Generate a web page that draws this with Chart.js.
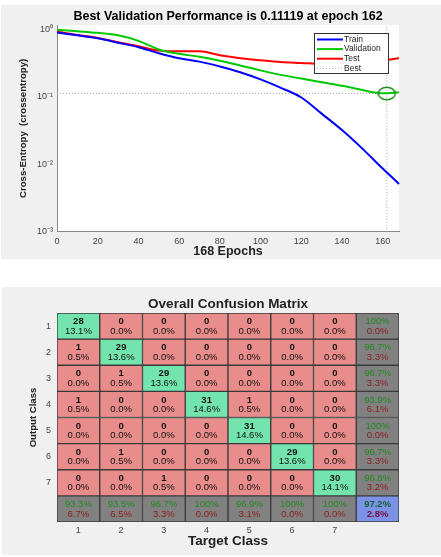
<!DOCTYPE html>
<html>
<head>
<meta charset="utf-8">
<script src="https://cdn.jsdelivr.net/npm/chart.js@4.4.1/dist/chart.umd.min.js"></script>
<style>
  html, body { margin: 0; padding: 0; background: #fff; }
  body { width: 441px; height: 557px; position: relative; overflow: hidden; }
  .panel { position: absolute; background: #f0f0f0; }
  #perfPanel { left: 1px; top: 5px; width: 440px; height: 254px; }
  #cmPanel { left: 2px; top: 287px; width: 439px; height: 268px; }
  canvas { position: absolute; left: 0; }
  #perf { top: 5px; }
  #confusion { top: 287px; }
</style>
</head>
<body>
<div class="panel" id="perfPanel"></div>
<div class="panel" id="cmPanel"></div>
<canvas id="perf" width="441" height="254"></canvas>
<canvas id="confusion" width="441" height="268"></canvas>

<script>
// --- performance plot data ---
const epochs     = [0, 10, 20, 30, 40, 50, 60, 70, 80, 90, 100, 110, 120, 130, 140, 150, 160, 168];
const trainLoss  = [0.89, 0.81, 0.73, 0.63, 0.54, 0.44, 0.37, 0.33, 0.28, 0.23, 0.18, 0.135, 0.097, 0.056, 0.032, 0.017, 0.0086, 0.0051];
const validLoss  = [0.98, 0.93, 0.88, 0.81, 0.67, 0.50, 0.43, 0.39, 0.34, 0.29, 0.245, 0.21, 0.185, 0.163, 0.145, 0.125, 0.112, 0.116];
const testLoss   = [0.92, 0.82, 0.74, 0.64, 0.56, 0.48, 0.47, 0.47, 0.41, 0.37, 0.345, 0.325, 0.315, 0.305, 0.31, 0.325, 0.345, 0.37];
const bestEpoch  = 162;
const bestPerf   = 0.11119;
const maxEpoch   = 168;
const xTicks     = [0, 20, 40, 60, 80, 100, 120, 140, 160];

// --- confusion matrix data ---
const classes = ['1', '2', '3', '4', '5', '6', '7'];
const counts = [
  [28, 0, 0, 0, 0, 0, 0],
  [1, 29, 0, 0, 0, 0, 0],
  [0, 1, 29, 0, 0, 0, 0],
  [1, 0, 0, 31, 1, 0, 0],
  [0, 0, 0, 0, 31, 0, 0],
  [0, 1, 0, 0, 0, 29, 0],
  [0, 0, 1, 0, 0, 0, 30]
];

const FONT = '"Liberation Sans", Arial, Helvetica, sans-serif';
const sup = { '0': '⁰', '1': '¹', '2': '²', '3': '³', '-': '⁻' };

function pts(ys) { return epochs.map((e, i) => ({ x: e, y: ys[i] })); }

// white plot background
const plotBg = {
  id: 'plotBg',
  beforeDraw(chart) {
    const { ctx, chartArea: a } = chart;
    ctx.save();
    ctx.fillStyle = '#fff';
    ctx.fillRect(a.left, a.top, a.right - a.left, a.bottom - a.top);
    ctx.restore();
  }
};

// matlab style legend box inside the axes
const boxLegend = {
  id: 'boxLegend',
  afterDraw(chart) {
    const { ctx, chartArea: a } = chart;
    const items = chart.data.datasets.filter(d => d.inLegend);
    const x0 = a.right - 85, y0 = a.top + 8, w = 74, h = 40;
    ctx.save();
    ctx.fillStyle = '#fff';
    ctx.fillRect(x0, y0, w, h);
    ctx.strokeStyle = '#333';
    ctx.lineWidth = 1;
    ctx.strokeRect(x0 + 0.5, y0 + 0.5, w, h);
    ctx.font = '8.5px ' + FONT;
    ctx.textBaseline = 'middle';
    items.forEach((d, i) => {
      const y = y0 + 6.5 + i * 9.6;
      ctx.beginPath();
      ctx.strokeStyle = d.borderColor;
      ctx.lineWidth = d.borderWidth;
      ctx.setLineDash(d.borderDash || []);
      ctx.moveTo(x0 + 3, y);
      ctx.lineTo(x0 + 29, y);
      ctx.stroke();
      ctx.setLineDash([]);
      ctx.fillStyle = '#222';
      ctx.fillText(d.label, x0 + 30, y);
    });
    ctx.restore();
  }
};

// ellipse marker for best epoch
const ring = document.createElement('canvas');
ring.width = 19; ring.height = 15;
(function () {
  const c = ring.getContext('2d');
  c.strokeStyle = '#1a8a1a';
  c.lineWidth = 1.5;
  c.beginPath();
  c.ellipse(9.5, 7.5, 8.5, 6.3, 0, 0, Math.PI * 2);
  c.stroke();
})();

new Chart(document.getElementById('perf'), {
  type: 'line',
  data: {
    datasets: [
      { label: 'Best', data: [{ x: bestEpoch, y: bestPerf }], pointStyle: ring, pointRadius: 9, showLine: false, order: 0 },
      { label: 'Train', data: pts(trainLoss), borderColor: '#0000ff', borderWidth: 2, inLegend: true, order: 1 },
      { label: 'Validation', data: pts(validLoss), borderColor: '#00c800', borderWidth: 2, inLegend: true, order: 2 },
      { label: 'Test', data: pts(testLoss), borderColor: '#ff0000', borderWidth: 2, inLegend: true, order: 3 },
      { label: 'Best', data: [{ x: 0, y: bestPerf }, { x: maxEpoch, y: bestPerf }], borderColor: '#a8a8a8', borderWidth: 1, borderDash: [1, 2], inLegend: true, order: 5 },
      { label: 'BestV', data: [{ x: bestEpoch, y: 0.001 }, { x: bestEpoch, y: 1.15 }], borderColor: '#a8a8a8', borderWidth: 1, borderDash: [1, 2], order: 5 }
    ]
  },
  options: {
    responsive: false,
    animation: false,
    events: [],
    clip: false,
    cubicInterpolationMode: 'monotone',
    elements: { point: { radius: 0 } },
    layout: { padding: { right: 42, left: 0, top: 0, bottom: 0 } },
    plugins: {
      legend: { display: false },
      tooltip: { enabled: false },
      title: {
        display: true,
        fullSize: false,
        text: 'Best Validation Performance is 0.11119 at epoch 162',
        color: '#000',
        font: { family: FONT, size: 12.5, weight: 'bold' },
        padding: { top: 4, bottom: 1 }
      }
    },
    scales: {
      x: {
        type: 'linear', min: 0, max: maxEpoch,
        afterBuildTicks: s => { s.ticks = xTicks.map(v => ({ value: v })); },
        afterFit: s => { s.height = 27.3; },
        grid: { display: false, drawTicks: false },
        border: { color: '#888' },
        ticks: { color: '#444', font: { family: FONT, size: 9 }, padding: 4, maxRotation: 0 },
        title: { display: true, text: '168 Epochs', color: '#222', font: { family: FONT, size: 12.5, weight: 'bold' }, padding: { top: 0, bottom: 0 } }
      },
      y: {
        type: 'logarithmic', min: 0.001, max: 1.15,
        afterFit: s => { s.width = 57; },
        grid: { display: false, drawTicks: false },
        border: { color: '#888' },
        ticks: {
          color: '#444', font: { family: FONT, size: 9 }, padding: 4, autoSkip: false,
          callback: v => {
            const e = Math.log10(v);
            if (Math.abs(e - Math.round(e)) > 1e-6) return '';
            return '10' + String(Math.round(e)).split('').map(ch => sup[ch]).join('');
          }
        },
        title: { display: true, text: 'Cross-Entropy  (crossentropy)', color: '#222', font: { family: FONT, size: 9.6, weight: 'bold' }, padding: { top: 17.2, bottom: 0 } }
      }
    }
  },
  plugins: [plotBg, boxLegend]
});

// --- confusion matrix built from counts ---
const n = classes.length;
const total = counts.flat().reduce((a, b) => a + b, 0);
const pct = v => (v === 100 ? '100%' : v.toFixed(1) + '%');
const GREEN = '#74e4ae', RED = '#e88c8c', GRAY = '#818181', BLUE = '#7b92e6';

const cmDatasets = [];
for (let r = 0; r <= n; r++) {
  const data = [], colors = [], top = [], bottom = [], kind = [];
  for (let c = 0; c <= n; c++) {
    data.push([r + 0.5, r + 1.5]);
    if (r < n && c < n) {
      colors.push(r === c ? GREEN : RED);
      top.push(String(counts[r][c]));
      bottom.push(pct(counts[r][c] / total * 100));
      kind.push('cell');
    } else {
      let ok, all;
      if (r < n) {
        all = counts[r].reduce((a, b) => a + b, 0); ok = counts[r][r];
      } else if (c < n) {
        all = counts.reduce((a, row) => a + row[c], 0); ok = counts[c][c];
      } else {
        all = total; ok = counts.reduce((a, row, i) => a + row[i], 0);
      }
      const acc = ok / all * 100;
      colors.push(r === n && c === n ? BLUE : GRAY);
      top.push(pct(acc));
      bottom.push(pct(100 - acc));
      kind.push(r === n && c === n ? 'total' : 'sum');
    }
  }
  cmDatasets.push({ data, backgroundColor: colors, top, bottom, kind });
}

const cellText = {
  id: 'cellText',
  afterDatasetsDraw(chart) {
    const ctx = chart.ctx;
    ctx.save();
    ctx.textAlign = 'center';
    ctx.textBaseline = 'middle';
    chart.data.datasets.forEach((ds, r) => {
      chart.getDatasetMeta(r).data.forEach((bar, c) => {
        const cy = (bar.y + bar.base) / 2;
        const k = ds.kind[c];
        if (k === 'cell') {
          ctx.fillStyle = '#111';
          ctx.font = 'bold 9.5px ' + FONT;
          ctx.fillText(ds.top[c], bar.x, cy - 4.5);
          ctx.font = '9.5px ' + FONT;
          ctx.fillText(ds.bottom[c], bar.x, cy + 5);
        } else {
          ctx.fillStyle = k === 'total' ? '#14602e' : '#1e8a1e';
          ctx.font = (k === 'total' ? 'bold ' : '') + '9.5px ' + FONT;
          ctx.fillText(ds.top[c], bar.x, cy - 4.5);
          ctx.fillStyle = k === 'total' ? '#7a1040' : '#8e1c1c';
          ctx.fillText(ds.bottom[c], bar.x, cy + 5);
        }
      });
    });
    ctx.restore();
  }
};

new Chart(document.getElementById('confusion'), {
  type: 'bar',
  data: { labels: classes.concat(['']), datasets: cmDatasets },
  options: {
    responsive: false,
    animation: false,
    events: [],
    layout: { padding: { right: 42, left: 0, top: 0, bottom: 0 } },
    datasets: {
      bar: {
        grouped: false, barPercentage: 1, categoryPercentage: 1,
        borderColor: '#3a3a3a', borderWidth: 1, borderSkipped: false
      }
    },
    plugins: {
      legend: { display: false },
      tooltip: { enabled: false },
      title: {
        display: true,
        fullSize: false,
        text: 'Overall Confusion Matrix',
        color: '#222',
        font: { family: FONT, size: 13.5, weight: 'bold' },
        padding: { top: 9, bottom: 0.8 }
      }
    },
    scales: {
      x: {
        afterFit: s => { s.height = 33; },
        grid: { display: false, drawTicks: false },
        border: { display: false },
        ticks: { color: '#444', font: { family: FONT, size: 9 }, padding: 3 },
        title: { display: true, text: 'Target Class', color: '#222', font: { family: FONT, size: 13.5, weight: 'bold' }, padding: { top: 0, bottom: 5.9 } }
      },
      y: {
        type: 'linear', min: 0.5, max: n + 1.5, reverse: true,
        afterBuildTicks: s => { s.ticks = classes.map((_, i) => ({ value: i + 1 })); },
        afterFit: s => { s.width = 57; },
        grid: { display: false, drawTicks: false },
        border: { display: false },
        ticks: { color: '#444', font: { family: FONT, size: 9 }, padding: 6, callback: v => classes[v - 1] },
        title: { display: true, text: 'Output Class', color: '#222', font: { family: FONT, size: 9.6, weight: 'bold' }, padding: { top: 27.2, bottom: 0 } }
      }
    }
  },
  plugins: [cellText]
});
</script>
</body>
</html>
